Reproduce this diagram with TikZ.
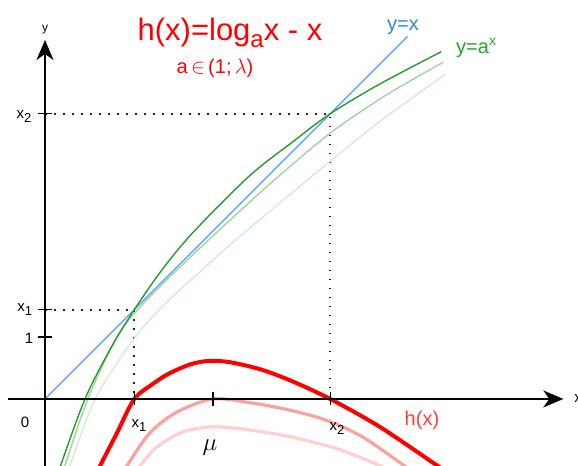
\documentclass[tikz,border=0pt]{standalone}
\usepackage{fontspec}
\setmainfont{Liberation Sans}
\usetikzlibrary{arrows.meta}

\definecolor{hred}{RGB}{255,0,0}
\definecolor{hlabel}{RGB}{255,60,60}
\definecolor{pinkA}{RGB}{252,160,160}
\definecolor{pinkB}{RGB}{255,208,208}
\definecolor{gdark}{RGB}{40,155,40}
\definecolor{gmid}{RGB}{160,212,160}
\definecolor{glight}{RGB}{210,238,210}
\definecolor{lblue}{RGB}{80,160,240}
\definecolor{tblue}{RGB}{50,135,225}
\definecolor{tgreen}{RGB}{40,165,40}

\newcommand{\lowidx}[1]{\raisebox{-4pt}{\fontsize{13}{13}\selectfont #1}}

\begin{document}
\begin{tikzpicture}[
      x=62pt, y=62pt,
      axis/.style={line width=1.6pt, -{Stealth[length=20pt, width=17pt, inset=6pt]}},
      tick/.style={line width=1.4pt},
      thintick/.style={line width=0.8pt},
      guide/.style={line width=1.8pt, dash pattern=on 1.8pt off 7.2pt, black!85},
      hmain/.style={line width=4pt, hred},
      hside/.style={line width=3.2pt},
      gline/.style={line width=1.4pt},
      lbl/.style={font=\fontsize{15}{15}\selectfont, inner sep=1pt},
      big/.style={font=\fontsize{20}{20}\selectfont, inner sep=1pt}]
  \useasboundingbox (-0.726,-1.081) rectangle (8.597,6.435);

  % points on the axes
  \coordinate (O) at (0,0);
  \coordinate (xs) at (-0.6,0);
  \coordinate (xe) at (8.36,0);
  \coordinate (ys) at (0,-1.2);
  \coordinate (ye) at (0,5.79);
  \coordinate (P1) at (1.44,1.44);
  \coordinate (P2) at (4.6,4.6);
  \coordinate (Q1) at (1.44,0);
  \coordinate (Q2) at (4.6,0);
  \coordinate (R1) at (0,1.44);
  \coordinate (R2) at (0,4.6);
  \coordinate (M) at (2.71,0);
  \coordinate (E) at (0,1);

  % dotted guides
  \draw[guide] (R2) -- (P2) -- (Q2);
  \draw[guide] (R1) -- (P1) -- (Q1);

  % family of curves y=a^x
  \draw[gline, glight] plot[smooth] coordinates {(0.36,-1.2) (0.40,-1.08) (0.81,0) (1.42,0.95) (1.9,1.5)
      (2.5,2.05) (3.0,2.5) (3.8,3.17) (4.63,3.86) (5.5,4.55) (6.45,5.23)};
  \draw[gline, gmid] plot[smooth] coordinates {(0.28,-1.2) (0.32,-1.08) (0.69,0) (1.16,1.0) (1.55,1.5)
      (2.2,2.15) (3.0,2.9) (3.8,3.62) (4.63,4.31) (5.5,4.9) (6.42,5.43)};
  \draw[lblue, line width=1.3pt] (O) -- (5.85,5.85);
  \draw[gline, gdark] plot[smooth] coordinates {(0.22,-1.2) (0.26,-1.05) (0.645,0) (1.05,0.8) (1.44,1.44)
      (1.9,2.1) (2.4,2.7) (3.3,3.6) (4.0,4.15) (4.6,4.6) (5.4,5.08) (6.39,5.6)};

  % family of curves h(x)
  \draw[hside, pinkB] plot[smooth] coordinates {(1.45,-1.2) (1.53,-1.08) (1.81,-0.77) (2.23,-0.53) (2.71,-0.45)
      (3.3,-0.5) (4.0,-0.62) (4.7,-0.8) (5.3,-1.03) (5.45,-1.1)};
  \draw[hside, pinkA] plot[smooth] coordinates {(1.25,-1.2) (1.32,-1.08) (1.69,-0.55) (2.13,-0.21) (2.71,0)
      (3.3,-0.06) (3.9,-0.17) (4.5,-0.33) (5.1,-0.6) (5.73,-1.03) (5.85,-1.12)};
  \draw[hmain] plot[smooth] coordinates {(0.83,-1.2) (0.887,-1.081) (1.16,-0.55) (1.44,0) (1.75,0.25)
      (2.0,0.41) (2.35,0.56) (2.66,0.615) (3.0,0.59) (3.5,0.47) (4.0,0.28) (4.6,0) (5.4,-0.45)
      (6.26,-1.03) (6.4,-1.12)};

  % axes
  \draw[axis] (xs) -- (xe);
  \draw[axis] (ys) -- (ye);
  \foreach \p in {E, R1, R2} {
    \draw[tick] ([xshift=-7pt]\p) -- ([xshift=7pt]\p);
  }
  \foreach \p in {Q1, Q2} {
    \draw[thintick] ([yshift=-6.5pt]\p) -- ([yshift=6.5pt]\p);
  }
  \draw[tick] ([yshift=-7pt]M) -- ([yshift=7pt]M);

  % labels
  \node[font=\fontsize{12}{12}\selectfont] (ylab) at (0,5.952) {y};
  \node[lbl, anchor=west] (xlab) at (8.52,0) {x};
  \node[lbl] (zero) at (-0.323,-0.371) {0};
  \node[lbl, anchor=east] (one) at (-0.17,0.984) {1};
  \node[lbl, anchor=east] (ya) at (-0.19,1.45) {x\lowidx{1}};
  \node[lbl, anchor=east] (yb) at (-0.2,4.56) {x\lowidx{2}};
  \node[lbl] (xa) at (1.516,-0.435) {x\lowidx{1}};
  \node[lbl] (xb) at (4.71,-0.484) {x\lowidx{2}};
  \node[font=\fontsize{26}{26}\selectfont] (mu) at (2.661,-0.79) {$\mu$};
  \node[big, hlabel] (hlab) at (6.08,-0.339) {h(x)};
  \node[big, tblue] (idlab) at (5.774,6.0) {y=x};
  \node[big, tgreen, anchor=west] (glab) at (6.613,5.661) {y=a\textsuperscript{x}};
  \node[font=\fontsize{31}{31}\selectfont, hred] (title) at (2.984,5.903)
      {h(x)=log\raisebox{-7pt}{\fontsize{24}{24}\selectfont a}x - x};
  \node[font=\fontsize{20}{20}\selectfont, hred] (range) at (2.742,5.339) {a\,$\in$\,(1;\,$\lambda$)};
\end{tikzpicture}
\end{document}
